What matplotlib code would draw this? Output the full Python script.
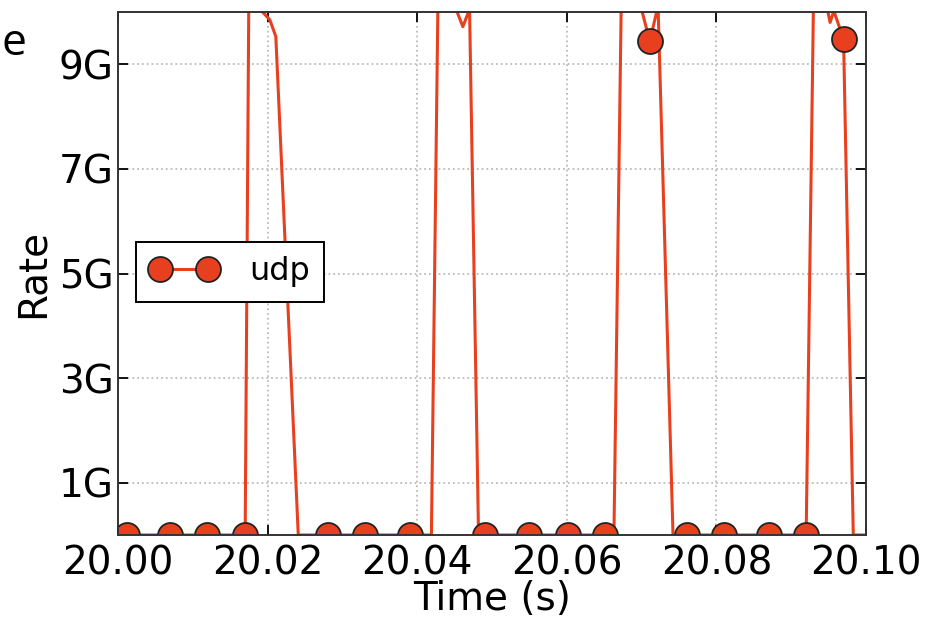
import numpy as np
import matplotlib
matplotlib.use("Agg")
import matplotlib.pyplot as plt
from matplotlib.patches import Polygon
from matplotlib.ticker import FixedLocator, FuncFormatter

# udp rate samples (time in s, rate in Gbit/s)
time_s = [19.9990, 20.0012, 20.0070, 20.0119, 20.0170, 20.0175, 20.0192, 20.0203,
          20.0211, 20.0241, 20.0281, 20.0330, 20.0390, 20.0419, 20.0428, 20.0448,
          20.0461, 20.0470, 20.0482, 20.0491, 20.0550, 20.0601, 20.0651, 20.0663,
          20.0673, 20.0699, 20.0711, 20.0722, 20.0742, 20.0761, 20.0810, 20.0870,
          20.0920, 20.0930, 20.0947, 20.0952, 20.0957, 20.0970, 20.0983, 20.1010]
rate_g = [0, 0, 0, 0, 0, 10.5, 10.02, 9.85,
          9.53, 0, 0, 0, 0, 0, 10.5, 10.2,
          9.72, 10.05, 0, 0, 0, 0, 0, 0,
          10.4, 10.1, 9.44, 10.12, 0, 0, 0, 0,
          0, 10.4, 10.15, 9.8, 10.02, 9.48, 0, 0]
# samples that carry a marker
marked = [1, 2, 3, 4, 10, 11, 12, 19, 20, 21, 22, 26, 29, 30, 31, 32, 37]

xticks = [20.00, 20.02, 20.04, 20.06, 20.08, 20.10]
yticks_g = [1, 3, 5, 7, 9]

RED = '#E8401F'
FS = 28

fig = plt.figure(figsize=(9.32, 6.18), dpi=100)
ax = fig.add_axes([118 / 932, 83 / 618, 748 / 932, 523 / 618])

line, = ax.plot(np.array(time_s), np.array(rate_g) * 1e9, '-o', color=RED, lw=2.2,
                markevery=marked, ms=18, mfc=RED, mec='#222222', mew=1.3,
                label='udp')
# real clip path so that markers sitting on the x axis get cut in half
clip = Polygon([(0, 0), (1, 0), (1, 1), (0, 1)], closed=True, transform=ax.transAxes)
line.set_clip_path(clip)

ax.set_xlim(20.00, 20.10)
ax.set_ylim(0, 1e10)
ax.xaxis.set_major_locator(FixedLocator(xticks))
ax.xaxis.set_major_formatter(FuncFormatter(lambda v, p: f'{v:.2f}'))
ax.yaxis.set_major_locator(FixedLocator([g * 1e9 for g in yticks_g]))
ax.yaxis.set_major_formatter(FuncFormatter(lambda v, p: f'{v / 1e9:.0f}G'))

ax.grid(True, ls=':', color='#bbbbbb', lw=1.3)
ax.tick_params(direction='in', length=7, width=1.3, labelsize=FS,
               top=True, right=True)
ax.tick_params(axis='y', pad=3)
ax.tick_params(axis='x', pad=7)
for sp in ax.spines.values():
    sp.set_color('#333333')
    sp.set_linewidth(1.4)

ax.set_xlabel('Time (s)', fontsize=FS, labelpad=-2)
ax.set_ylabel('Rate', fontsize=FS, labelpad=5)

leg = ax.legend(loc='center left', bbox_to_anchor=(0.024, 0.503), borderaxespad=0,
                numpoints=2, fontsize=23, handlelength=2.1, handletextpad=1.0,
                borderpad=0.45, fancybox=False, framealpha=1)
leg.get_frame().set_edgecolor('black')
leg.get_frame().set_linewidth(1.4)

fig.text(1 / 932, 1 - 55 / 618, 'e', ha='left', va='baseline', fontsize=32,
         family='Open Sans')

fig.savefig('out.png', dpi=100)
